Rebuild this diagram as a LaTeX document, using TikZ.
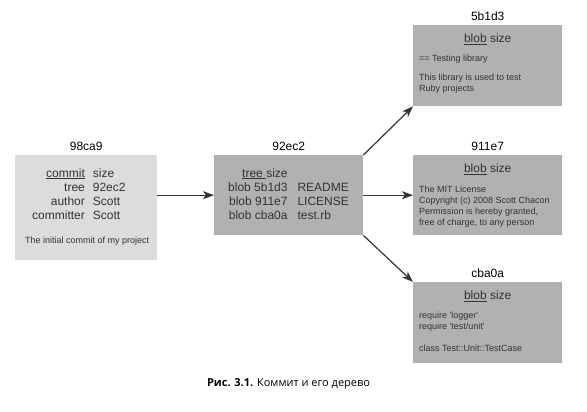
\documentclass[tikz,border=0pt]{standalone}
\usepackage{fontspec}
\setmainfont{Liberation Sans}
\newfontfamily\capfont{Open Sans}
\usetikzlibrary{positioning,arrows.meta}

\definecolor{lightbox}{HTML}{DCDCDE}
\definecolor{darkbox}{HTML}{B1B1B3}
\definecolor{ink}{HTML}{333333}

\tikzset{
  objbox/.style={fill=darkbox, inner sep=0pt, anchor=north west},
  commitbox/.style={objbox, fill=lightbox},
  hashlabel/.style={font=\large, inner sep=0pt},
  fields/.style={font=\large, text=ink, inner sep=0pt},
  bodytext/.style={font=\small, text=ink, inner sep=0pt, align=left},
  pointer/.style={-{Stealth[length=11pt,width=8pt,inset=3pt]}, line width=1.2pt, draw=ink}
}

\begin{document}
\begin{tikzpicture}[x=1pt,y=-1pt]
        \useasboundingbox (0,0) rectangle (587,412);

        % boxes
        \node[commitbox, minimum width=142pt, minimum height=105pt] (commit) at (15,155) {};
        \node[objbox, minimum width=149pt, minimum height=80pt] (tree) at (214,155) {};
        \node[objbox, minimum width=149pt, minimum height=81pt] (blobA) at (413,25) {};
        \node[objbox, minimum width=149pt, minimum height=80pt] (blobB) at (413,155) {};
        \node[objbox, minimum width=149pt, minimum height=81pt] (blobC) at (413,282) {};

        % hashes
        \node[hashlabel, above=3.7pt of commit] (commitid) {98ca9};
        \node[hashlabel, above=3.7pt of tree] (treeid) {92ec2};
        \node[hashlabel, above=3.7pt of blobA] (blobAid) {5b1d3};
        \node[hashlabel, above=3.7pt of blobB] (blobBid) {911e7};
        \node[hashlabel, above=3.7pt of blobC] (blobCid) {cba0a};

        % commit object
        \node[fields, below right=12pt and 17pt of commit.north west, anchor=north west] (commitfields) {%
          \begin{tabular}{@{}r@{\hspace{8pt}}l@{}}
            \underline{commit} & size\\
            tree & 92ec2\\
            author & Scott\\
            committer & Scott
          \end{tabular}};
        \node[bodytext, below right=81.6pt and 10pt of commit.north west, anchor=north west] (commitmsg) {The initial commit of my project};

        % tree object
        \node[fields, below right=12pt and 14pt of tree.north west, anchor=north west] (treefields) {%
          \begin{tabular}{@{}r@{\hspace{10pt}}l@{}}
            \underline{tree\ }size & \\
            blob 5b1d3 & README\\
            blob 911e7 & LICENSE\\
            blob cba0a & test.rb
          \end{tabular}};

        % blobs
        \node[fields, below=8.4pt of blobA.north] (blobAhead) {\underline{blob} size};
        \node[fields, below=8.4pt of blobB.north] (blobBhead) {\underline{blob} size};
        \node[fields, below=8.4pt of blobC.north] (blobChead) {\underline{blob} size};

        \node[bodytext, below right=30pt and 6pt of blobA.north west, anchor=north west] (blobAtext)
          {== Testing library\\[8pt] This library is used to test\\ Ruby projects};
        \node[bodytext, below right=31pt and 6pt of blobB.north west, anchor=north west] (blobBtext)
          {The MIT License\\ Copyright (c) 2008 Scott Chacon\\ Permission is hereby granted,\\ free of charge, to any person};
        \node[bodytext, below right=30pt and 6pt of blobC.north west, anchor=north west] (blobCtext)
          {require \textquotesingle logger\textquotesingle\\ require \textquotesingle test/unit\textquotesingle\\[11pt] class Test::Unit::TestCase};

        % pointers
        \draw[pointer] (tree.west -| commit.east) -- (tree.west);
        \draw[pointer] (tree.north east) -- (blobA.south west);
        \draw[pointer] (tree.east) -- (blobB.west);
        \draw[pointer] (tree.south east) -- (blobC.north west);

        \node[font=\capfont\fontsize{11}{13}\selectfont] (caption) at (288.5,384) {\textbf{Рис. 3.1.} Коммит и его дерево};
      \end{tikzpicture}
\end{document}
